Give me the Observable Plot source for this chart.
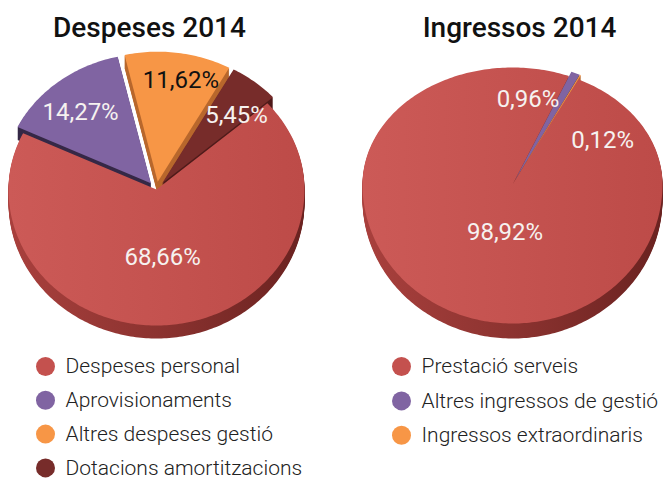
<!DOCTYPE html>
<html><head><meta charset="utf-8">
<script src="https://cdn.jsdelivr.net/npm/d3@7"></script>
<script src="https://cdn.jsdelivr.net/npm/@observablehq/plot@0.6"></script>
<style>body{margin:0;background:#fff} svg{display:block}</style>
</head><body><div id="chart"></div>
<script>
// ---- data ----
const chartTitles = ["Despeses 2014", "Ingressos 2014"];
const expenseCategories = ["Despeses personal", "Aprovisionaments", "Altres despeses gestió", "Dotacions amortitzacions"];
const expenseValues = [68.66, 14.27, 11.62, 5.45];
const incomeCategories = ["Prestació serveis", "Altres ingressos de gestió", "Ingressos extraordinaris"];
const incomeValues = [98.92, 0.96, 0.12];

// ---- styles ----
const sliceColors = ["#c4514e", "#8064a2", "#f79646", "#772c2a"];
const sideColors = ["#8f3431", "#352846", "#b8672c", "#4f1b1a"];
const fmt = v => v.toFixed(2).replace(".", ",") + "%";

// ---- layout ----
const W = 666, H = 479;
const pies = [
  {title: chartTitles[0], cats: expenseCategories, vals: expenseValues,
   cx: 156, cy: 189, rx: 148, ryTop: 130, ryBot: 136, depth: 13, start: 48.5,
   explode: [0, 9, 9, 9], labelK: [0.5, 0.8, 0.85, 0.8],
   nudge: [[-4, 0], [-2, 4], [7, 0], [6, 7]], labelFill: ["#f6f2f0", "#f6f2f0", "#111", "#f6f2f0"],
   titleX: 149, legendX: 45, legendY0: 366, legendStep: 33.8},
  {title: chartTitles[1], cats: incomeCategories, vals: incomeValues,
   cx: 512, cy: 184, rx: 150, ryTop: 117, ryBot: 139, depth: 15, start: 26,
   explode: [0, 6, 6], labelK: [0.4, 0.8, 0.8],
   nudge: [[17, -3], [-33, 0], [38, 40]], labelFill: ["#f6f2f0", "#f6f2f0", "#f6f2f0"],
   titleX: 519, legendX: 401, legendY0: 366, legendStep: 34.4}
];

const rad = Math.PI / 180;
function project(p, r, deg, eu, ev, shift) {
  const t = deg * rad;
  const u = r * Math.sin(t) + eu, v = -r * Math.cos(t) + ev;
  return [p.cx + p.rx * u, p.cy + (v < 0 ? p.ryTop : p.ryBot) * v + shift];
}
function slicePoints(p, s, shift) {
  const mid = (s.a0 + s.a1) / 2 * rad;
  const eu = s.ex / p.rx * Math.sin(mid), ev = -s.ex / p.rx * Math.cos(mid);
  const pts = [project(p, 0, s.a0, eu, ev, shift)];
  const n = Math.max(2, Math.ceil(s.a1 - s.a0));
  for (let i = 0; i <= n; i++) pts.push(project(p, 1, s.a0 + (s.a1 - s.a0) * i / n, eu, ev, shift));
  return pts;
}

const wallMarks = [], topMarks = [], textMarks = [];
pies.forEach((p, k) => {
  const arcs = d3.pie().sort(null).startAngle(p.start * rad).endAngle(p.start * rad + 2 * Math.PI)(p.vals);
  const slices = arcs.map((a, i) => ({i, a0: a.startAngle / rad, a1: a.endAngle / rad, ex: p.explode[i]}));
  // walls back to front
  const order = slices.slice().sort((a, b) => -Math.cos((a.a0 + a.a1) / 2 * rad) + Math.cos((b.a0 + b.a1) / 2 * rad));
  for (const s of order) {
    const rows = [];
    for (let d = 1; d <= p.depth; d++) slicePoints(p, s, d).forEach(([x, y]) => rows.push({x, y, z: d}));
    wallMarks.push(Plot.line(rows, {x: "x", y: "y", z: "z", curve: "linear-closed",
      fill: s.i === 0 ? `url(#wall${k})` : sideColors[s.i], stroke: "none"}));
  }
  for (const s of slices) {
    const rows = slicePoints(p, s, 0).map(([x, y]) => ({x, y}));
    topMarks.push(Plot.line(rows, {x: "x", y: "y", curve: "linear-closed",
      fill: s.i === 0 ? `url(#top${k})` : sliceColors[s.i], stroke: "none"}));
  }
  // value labels
  const labels = slices.map(s => {
    const mid = (s.a0 + s.a1) / 2;
    const [x, y] = project(p, p.labelK[s.i], mid, 0, 0, 0);
    return {x: x + p.nudge[s.i][0], y: y + p.nudge[s.i][1], text: fmt(p.vals[s.i]), fill: p.labelFill[s.i]};
  });
  textMarks.push(Plot.text(labels, {x: "x", y: "y", text: "text", fill: "fill", fontSize: 24, fontFamily: "Roboto", fontWeight: 400}));
  // title
  textMarks.push(Plot.text([p.title], {x: () => p.titleX, y: () => 28, text: d => d, fontSize: 28, fontWeight: 500, fontFamily: "Roboto", fill: "#111"}));
  // legend
  textMarks.push(Plot.dot(p.cats, {x: () => p.legendX, y: (d, i) => p.legendY0 + i * p.legendStep, r: 9.5, fill: (d, i) => sliceColors[i], stroke: "none"}));
  textMarks.push(Plot.text(p.cats, {x: () => p.legendX + 20, y: (d, i) => p.legendY0 + i * p.legendStep, text: d => d,
    textAnchor: "start", fontSize: 21, fontWeight: 300, fontFamily: "Roboto", fill: "#222"}));
});

const chart = Plot.plot({
  width: W, height: H, margin: 0,
  x: {domain: [0, W], range: [0, W], axis: null},
  y: {domain: [0, H], range: [0, H], axis: null},
  color: {type: "identity"},
  style: {fontFamily: "Roboto", background: "#fff"},
  marks: [...wallMarks, ...topMarks, ...textMarks]
});

// gradients for the main slices
const svg = d3.select(chart);
const defs = svg.insert("defs", ":first-child");
[0, 1].forEach(k => {
  const g = defs.append("linearGradient").attr("id", `top${k}`).attr("x1", 0).attr("x2", 1).attr("y1", 0).attr("y2", 0);
  g.append("stop").attr("offset", "0%").attr("stop-color", "#cc5a57");
  g.append("stop").attr("offset", "100%").attr("stop-color", "#bd4b48");
  const w = defs.append("linearGradient").attr("id", `wall${k}`).attr("x1", 0).attr("x2", 1).attr("y1", 0).attr("y2", 0);
  w.append("stop").attr("offset", "0%").attr("stop-color", "#a9403d");
  w.append("stop").attr("offset", "50%").attr("stop-color", "#8c3330");
  w.append("stop").attr("offset", "100%").attr("stop-color", "#6a2220");
});
document.getElementById("chart").appendChild(chart);
</script>
</body></html>
